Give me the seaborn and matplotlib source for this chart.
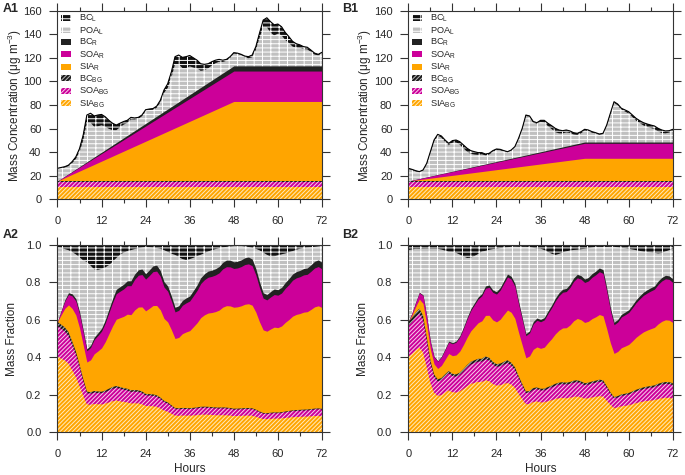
import numpy as np
import pandas as pd
import matplotlib
matplotlib.use('Agg')
import matplotlib.pyplot as plt
from matplotlib.patches import Patch
from matplotlib.ticker import MultipleLocator, FormatStrFormatter
import seaborn as sns

sns.set_theme(style='ticks')
plt.rcParams['font.family'] = ['Liberation Sans', 'DejaVu Sans']
plt.rcParams['hatch.linewidth'] = 0.7
plt.rcParams['axes.linewidth'] = 0.8

hours = np.arange(0, 73)

# 总质量浓度（堆叠顶端），逐小时读图
total_A = [26.3, 27.0, 27.7, 29.0, 32.0, 36.0, 43.0, 54.5, 71.5, 73.0, 70.7, 71.5, 72.0,
           70.0, 67.0, 64.5, 63.0, 64.5, 66.0, 67.0, 69.5, 69.0, 69.5, 71.5, 76.0,
           76.6, 77.0, 79.0, 84.0, 92.7, 98.0, 108.0, 121.0, 122.4, 120.4, 121.0, 122.0,
           120.0, 118.0, 115.0, 114.5, 115.0, 116.7, 118.0, 118.7, 118.0, 118.7, 121.0, 124.4,
           124.0, 123.0, 121.5, 121.0, 122.4, 129.5, 141.0, 152.0, 154.0, 150.7, 148.0, 148.7,
           146.4, 141.6, 138.0, 134.0, 132.0, 131.0, 129.5, 129.0, 126.6, 124.0, 123.0, 124.7]
total_B = [26.3, 25.4, 24.3, 23.5, 24.9, 30.5, 40.4, 50.3, 55.1, 53.7, 50.3, 47.5, 49.8,
           50.3, 48.9, 46.1, 43.3, 41.3, 40.4, 39.6, 39.6, 38.4, 39.0, 41.3, 42.7,
           42.4, 41.3, 40.4, 41.8, 44.7, 51.7, 60.2, 71.5, 70.7, 66.0, 65.0, 67.0,
           67.0, 64.5, 62.5, 60.2, 58.8, 58.2, 58.8, 58.0, 56.5, 56.0, 57.3, 59.4,
           58.8, 57.4, 56.5, 55.4, 56.0, 63.0, 73.0, 82.8, 80.8, 77.2, 75.8, 74.3,
           71.5, 68.7, 66.7, 65.0, 63.9, 63.0, 62.2, 60.2, 58.8, 58.0, 58.2, 59.4]

# 本地BC（BC_L），逐小时
bcl_A = [0.3, 0.4, 0.6, 0.8, 1.2, 1.8, 2.8, 4.5, 6.4, 8.0, 9.2, 9.6, 9.2,
         8.4, 7.2, 5.8, 4.4, 3.4, 2.7, 2.2, 1.9, 1.5, 1.2, 1.0, 0.8,
         0.9, 1.1, 1.3, 1.7, 2.5, 3.6, 5.0, 6.4, 7.8, 9.0, 9.7, 9.2,
         8.2, 7.0, 6.0, 5.0, 4.0, 3.2, 2.6, 2.0, 1.5, 1.2, 0.9, 0.7,
         0.6, 0.6, 0.9, 1.3, 1.9, 2.6, 4.0, 6.0, 8.0, 9.4, 9.0, 8.2,
         7.3, 6.4, 5.4, 4.4, 3.4, 2.6, 2.1, 1.8, 1.5, 1.2, 0.9, 0.6]
bcl_B = [0.7, 0.6, 0.5, 0.5, 0.5, 0.6, 0.8, 1.0, 1.1, 1.3, 1.5, 1.7, 1.8,
         2.1, 2.5, 2.8, 3.0, 2.8, 2.4, 1.9, 1.4, 1.2, 1.0, 0.9, 0.85,
         0.7, 0.6, 0.5, 0.4, 0.4, 0.5, 0.6, 0.7, 0.8, 1.0, 1.2, 1.3,
         1.8, 2.4, 2.9, 3.2, 2.8, 2.3, 2.0, 1.7, 1.5, 1.4, 1.3, 1.2,
         1.0, 0.8, 0.6, 0.55, 0.6, 0.65, 0.7, 0.8, 1.0, 1.2, 1.3, 1.5,
         1.7, 1.9, 2.1, 2.3, 2.4, 2.5, 2.6, 2.7, 2.5, 2.0, 1.6, 1.2]

# 背景贡献（恒定）
bg_sia = 10.6
bg_soa = 4.3
bg_bc = 0.6

# 区域贡献：0-48小时线性上升，之后不变
ramp_hours = [0, 48, 72]
sia_r_A = [0, 67.5, 67.5]
soa_r_A = [0, 25.8, 25.8]
bc_r_A = [0, 4.4, 4.4]
sia_r_B = [0, 19.3, 19.3]
soa_r_B = [0, 12.7, 12.7]
bc_r_B = [0, 1.1, 1.1]

layers = ['SIA_BG', 'SOA_BG', 'BC_BG', 'SIA_R', 'SOA_R', 'BC_R', 'POA_L', 'BC_L']
names = {
    'SIA_BG': r'SIA$_{\mathregular{BG}}$', 'SOA_BG': r'SOA$_{\mathregular{BG}}$',
    'BC_BG': r'BC$_{\mathregular{BG}}$', 'SIA_R': r'SIA$_{\mathregular{R}}$',
    'SOA_R': r'SOA$_{\mathregular{R}}$', 'BC_R': r'BC$_{\mathregular{R}}$',
    'POA_L': r'POA$_{\mathregular{L}}$', 'BC_L': r'BC$_{\mathregular{L}}$',
}
# 颜色, 填充线颜色, 填充样式
style = {
    'SIA_BG': ('#FFA500', '#FFEBC0', '////////'),
    'SOA_BG': ('#CC0099', '#F8CFEE', '////////'),
    'BC_BG': ('#1A1A1A', '#BBBBBB', '////////'),
    'SIA_R': ('#FFA500', None, None),
    'SOA_R': ('#CC0099', None, None),
    'BC_R': ('#222222', None, None),
    'POA_L': ('#C0C0C0', 'white', '----||'),
    'BC_L': ('#111111', 'white', '----||'),
}


def build(total, bcl, sia_r, soa_r, bc_r):
    df = pd.DataFrame(index=hours)
    df['SIA_BG'] = bg_sia
    df['SOA_BG'] = bg_soa
    df['BC_BG'] = bg_bc
    df['SIA_R'] = np.interp(hours, ramp_hours, sia_r)
    df['SOA_R'] = np.interp(hours, ramp_hours, soa_r)
    df['BC_R'] = np.interp(hours, ramp_hours, bc_r)
    df['BC_L'] = bcl
    df['POA_L'] = np.array(total) - df.sum(axis=1)
    return df[layers]


def draw_stack(ax, df):
    cum = df.cumsum(axis=1)
    # 从上往下画，每层从0填到累积顶端，避免缝隙
    for name in layers[::-1]:
        face, hcol, hatch = style[name]
        ax.fill_between(df.index, 0, cum[name], facecolor=face,
                        edgecolor=hcol or face, hatch=hatch, linewidth=0)


def style_axis(ax, ymax, ystep, fmt):
    ax.set_xlim(0, 72)
    ax.set_ylim(0, ymax)
    ax.set_xticks(range(0, 73, 12))
    ax.xaxis.set_minor_locator(MultipleLocator(6))
    ax.set_yticks(np.arange(0, ymax + ystep / 2, ystep))
    ax.yaxis.set_major_formatter(FormatStrFormatter(fmt))
    ax.tick_params(which='both', direction='out', top=True, right=True,
                   labelsize=8, color='#333333', width=0.8)
    ax.tick_params(which='major', length=5.5)
    ax.tick_params(which='minor', length=3)
    ax.tick_params(axis='x', pad=6.5)
    ax.tick_params(axis='y', pad=6)
    for sp in ax.spines.values():
        sp.set_color('#333333')
        sp.set_zorder(5)
    ax.set_axisbelow(False)


fig = plt.figure(figsize=(6.85, 4.75), dpi=100)
ax_A1 = fig.add_axes([0.0839, 0.5804, 0.3861, 0.3971])
ax_B1 = fig.add_axes([0.5961, 0.5804, 0.3861, 0.3971])
ax_A2 = fig.add_axes([0.0839, 0.0905, 0.3861, 0.3937])
ax_B2 = fig.add_axes([0.5961, 0.0905, 0.3861, 0.3937])

panels = [
    (ax_A1, ax_A2, build(total_A, bcl_A, sia_r_A, soa_r_A, bc_r_A), total_A),
    (ax_B1, ax_B2, build(total_B, bcl_B, sia_r_B, soa_r_B, bc_r_B), total_B),
]

handles = [Patch(facecolor=style[n][0], edgecolor=style[n][1] or style[n][0],
                 hatch=style[n][2], linewidth=0, label=names[n]) for n in layers[::-1]]

for ax_top, ax_bot, df, total in panels:
    draw_stack(ax_top, df)
    sns.lineplot(x=hours, y=total, color='black', linewidth=0.8, ax=ax_top)
    style_axis(ax_top, 160, 20, '%d')
    ax_top.set_ylabel(r'Mass Concentration (μg m$^{\mathregular{-3}}$)', fontsize=8.5)
    ax_top.yaxis.set_label_coords(-0.128, 0.5)
    ax_top.set_xlabel('')
    ax_top.legend(handles=handles, loc='upper left', bbox_to_anchor=(0.008, 0.998),
                  frameon=False, fontsize=6.7, handlelength=1.0, handleheight=0.6,
                  labelspacing=0.0, handletextpad=0.9, borderaxespad=0, borderpad=0.2)

    frac = df.div(np.array(total), axis=0)
    draw_stack(ax_bot, frac)
    style_axis(ax_bot, 1.0, 0.2, '%.1f')
    ax_bot.set_ylabel('Mass Fraction', fontsize=8.5)
    ax_bot.yaxis.set_label_coords(-0.150, 0.5)
    ax_bot.set_xlabel('Hours', fontsize=8.5, labelpad=3)

for txt, x, y in [('A1', 3, 3), ('B1', 342, 3), ('A2', 3, 229), ('B2', 342, 229)]:
    fig.text(x / 685, 1 - y / 475, txt, fontsize=9, fontweight='bold', va='top', ha='left')

fig.savefig('out.png', dpi=100)
